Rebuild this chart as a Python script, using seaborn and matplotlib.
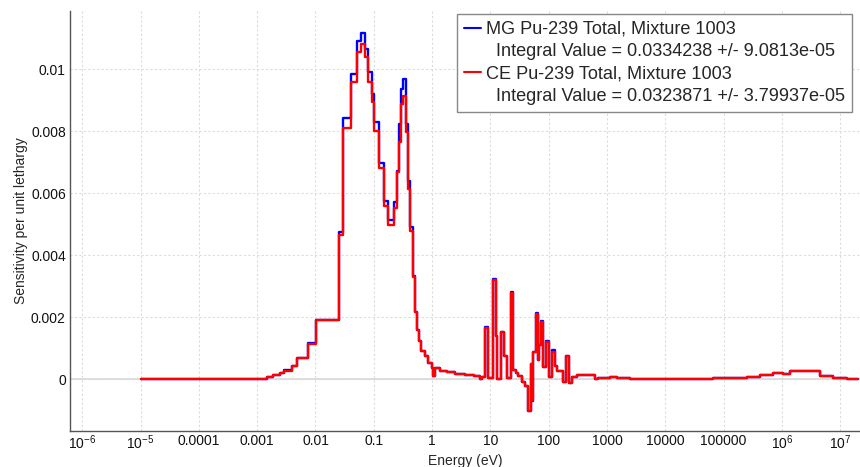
import numpy as np
import pandas as pd
import matplotlib
matplotlib.use("Agg")
import matplotlib.pyplot as plt
from matplotlib.lines import Line2D
from matplotlib.ticker import FixedLocator, FuncFormatter, MultipleLocator
import seaborn as sns

# ---------------- data ----------------
energy_edges = [1e-5, 5.1e-4, 1.0e-3, 1.46e-3, 1.9e-3, 2.47e-3, 2.93e-3, 3.92e-3, 4.9e-3, 7.55e-3,
                1.02e-2, 2.54e-2, 2.97e-2, 4.08e-2, 5.1e-2, 6.05e-2, 7.1e-2, 8.07e-2, 9.24e-2, 0.101,
                0.125, 0.150, 0.174, 0.226, 0.248, 0.272, 0.294, 0.322, 0.354, 0.383,
                0.420, 0.467, 0.511, 0.553, 0.598, 0.648, 0.759, 0.864, 0.989, 1.05,
                1.125, 1.37, 1.81, 2.48, 3.68, 5.25, 6.65, 7.2, 8.1, 9.24,
                11.3, 12.4, 13.2, 15.1, 17.4, 19.1, 22.4, 24.8, 27.6, 30.2,
                34.6, 39.4, 44.9, 49.3, 51.9, 54.7, 60.8, 65.0, 68.4, 74.1,
                81.1, 90.3, 100.4, 113, 129, 141, 179, 199, 224, 249,
                303, 625, 712, 1130, 1470, 2490, 66100, 2.5e5, 4.23e5, 7.15e5,
                1.06e6, 1.38e6, 2.67e6, 4.52e6, 7.64e6, 1.3e7, 2.05e7]

ce_values = [0.0, 0.000005, 0.00002, 0.00006, 0.00013, 0.00021, 0.00028, 0.00043, 0.00068, 0.00114,
             0.00191, 0.00465, 0.00812, 0.0096, 0.01057, 0.0108, 0.01039, 0.0096, 0.00895, 0.00801,
             0.0068, 0.00559, 0.00498, 0.00552, 0.0067, 0.00766, 0.00888, 0.00914, 0.00798, 0.00613,
             0.00479, 0.00331, 0.00216, 0.0016, 0.00124, 0.00092, 0.00075, 0.00052, 0.00035, 0.00011,
             0.00035, 0.00028, 0.00022, 0.00017, 0.00013, 0.0001, 0.0, 0.00007, 0.00166, 0.00003,
             0.00319, 0.00141, 0.0, 0.00151, 0.00075, 0.00003, 0.00279, 0.0003, 0.0002, 0.0001,
             -0.00008, -0.00022, -0.00101, 0.00049, -0.00067, 0.00089, 0.0021, 0.00062, 0.0011, 0.00186,
             0.00041, 0.00121, 0.00008, 0.00089, 0.00043, 0.00025, -0.00008, 0.00075, -0.00013, 0.00008,
             0.00015, 0.0, 0.00003, 0.00008, 0.00003, 0.00002, 0.00004, 0.00008, 0.00014, 0.00019,
             0.00017, 0.00025, 0.00028, 0.00012, 0.00004, 0.00001]

mg_values = [0.0, 0.000005, 0.00002, 0.00006, 0.00013, 0.00021, 0.00029, 0.00044, 0.0007, 0.00117,
             0.00192, 0.00475, 0.00843, 0.00986, 0.01092, 0.01117, 0.01067, 0.00991, 0.0092, 0.0083,
             0.00699, 0.00575, 0.00515, 0.00572, 0.00672, 0.00825, 0.00935, 0.0097, 0.00823, 0.0064,
             0.0049, 0.00333, 0.00217, 0.0016, 0.00124, 0.00092, 0.00075, 0.00052, 0.00035, 0.00011,
             0.00035, 0.00028, 0.00022, 0.00017, 0.00013, 0.0001, 0.0, 0.00007, 0.00168, 0.00003,
             0.00322, 0.00141, 0.0, 0.00153, 0.00075, 0.00003, 0.00282, 0.0003, 0.0002, 0.0001,
             -0.00008, -0.00022, -0.00103, 0.00049, -0.0007, 0.00089, 0.00213, 0.00062, 0.0011, 0.00188,
             0.00041, 0.00123, 0.00008, 0.00095, 0.00043, 0.00025, -0.00008, 0.00076, -0.00013, 0.00008,
             0.00015, 0.0, 0.00003, 0.00008, 0.00003, 0.00002, 0.00004, 0.00008, 0.00014, 0.00019,
             0.00017, 0.00025, 0.00028, 0.00012, 0.00004, 0.00001]

series_names = ["MG", "CE"]
legend_labels = ["MG Pu-239 Total, Mixture 1003",
                 "  Integral Value = 0.0334238 +/- 9.0813e-05",
                 "CE Pu-239 Total, Mixture 1003",
                 "  Integral Value = 0.0323871 +/- 3.79937e-05"]
x_tick_values = [1e-6, 1e-5, 1e-4, 1e-3, 1e-2, 1e-1, 1, 10, 100, 1000, 1e4, 1e5, 1e6, 1e7]
x_tick_labels = [r"$\mathregular{10^{-6}}$", r"$\mathregular{10^{-5}}$", "0.0001", "0.001", "0.01", "0.1",
                 "1", "10", "100", "1000", "10000", "100000",
                 r"$\mathregular{10^{6}}$", r"$\mathregular{10^{7}}$"]
y_tick_values = [0, 0.002, 0.004, 0.006, 0.008, 0.01]
y_tick_labels = ["0", "0.002", "0.004", "0.006", "0.008", "0.01"]

# ---------------- build table ----------------
rows = []
for name, vals in zip(series_names, [mg_values, ce_values]):
    ys = list(vals) + [vals[-1]]
    for e, v in zip(energy_edges, ys):
        rows.append({"Energy": e, "Sensitivity": v, "Series": name})
df = pd.DataFrame(rows)

# ---------------- style ----------------
sns.set_style("white")
plt.rcParams["font.family"] = ["Liberation Sans", "DejaVu Sans"]
plt.rcParams["mathtext.fontset"] = "custom"
plt.rcParams["mathtext.rm"] = "Liberation Sans"
plt.rcParams["mathtext.it"] = "Liberation Sans"

fig = plt.figure(figsize=(8.6, 4.67), dpi=100)
ax = fig.add_axes([70 / 860, 1 - 431 / 467, 790 / 860, 420 / 467])

palette = {"MG": "#0000ff", "CE": "#ff0000"}
sns.lineplot(data=df, x="Energy", y="Sensitivity", hue="Series", hue_order=series_names,
             palette=palette, drawstyle="steps-post", estimator=None, sort=False,
             legend=False, linewidth=1.7, ax=ax, zorder=3)

ax.set_xscale("log")
ax.set_xlim(10 ** -6.21, 10 ** 7.34)
ax.set_ylim(-0.00167, 0.01188)

ax.xaxis.set_major_locator(FixedLocator(x_tick_values))
ax.xaxis.set_major_formatter(FuncFormatter(lambda v, p: x_tick_labels[x_tick_values.index(v)]
                                           if v in x_tick_values else ""))
ax.xaxis.set_minor_locator(FixedLocator([10 ** (k + 0.5) for k in range(-7, 8)]))
ax.xaxis.set_minor_formatter(FuncFormatter(lambda v, p: ""))
ax.yaxis.set_major_locator(FixedLocator(y_tick_values))
ax.yaxis.set_major_formatter(FuncFormatter(lambda v, p: y_tick_labels[int(round(v / 0.002))]
                                           if 0 <= round(v / 0.002) < len(y_tick_labels) else ""))
ax.yaxis.set_minor_locator(MultipleLocator(0.0005))

ax.tick_params(axis="both", which="major", direction="in", length=4, width=0.8,
               color="#555555", labelsize=10, labelcolor="#111111")
ax.tick_params(axis="x", which="major", pad=2)
ax.tick_params(axis="y", which="major", pad=3)
ax.tick_params(axis="both", which="minor", direction="in", length=3, width=0.8, color="#555555")

for s in ["top", "right"]:
    ax.spines[s].set_visible(False)
for s in ["left", "bottom"]:
    ax.spines[s].set_color("#555555")
    ax.spines[s].set_linewidth(1.0)

ax.grid(True, which="major", color="#dcdcdc", linestyle=(0, (2, 2)), linewidth=0.8, zorder=0)
ax.axhline(0, color="#d8d8d8", linewidth=1.2, zorder=1)

ax.set_xlabel("Energy (eV)", fontsize=10, labelpad=1)
ax.set_ylabel("Sensitivity per unit lethargy", fontsize=10, labelpad=2)

handles = [Line2D([], [], color="#0000ff", lw=1.5),
           Line2D([], [], color="none"),
           Line2D([], [], color="#ff0000", lw=1.5),
           Line2D([], [], color="none")]
leg = ax.legend(handles, legend_labels, loc="upper right",
                bbox_to_anchor=(852 / 860, 1 - 14 / 467), bbox_transform=fig.transFigure,
                borderaxespad=0, fontsize=13.1, handlelength=0.9, handletextpad=0.3,
                labelspacing=0.3, borderpad=0.38, fancybox=False, framealpha=1,
                edgecolor="#888888")
leg.get_frame().set_linewidth(1.0)

fig.savefig("out.png", dpi=100)
